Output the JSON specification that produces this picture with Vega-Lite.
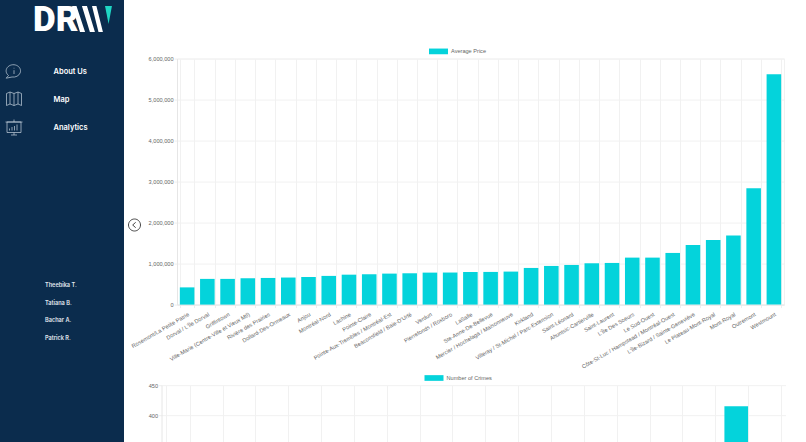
{
  "$schema": "https://vega.github.io/schema/vega-lite/v6.json",
  "padding": 0,
  "background": "#ffffff",
  "bounds": "full",
  "align": "none",
  "spacing": -13,
  "config": {
    "font": "Liberation Sans",
    "view": {"stroke": "#f1f1f1"}
  },
  "hconcat": [
    {
      "width": 124,
      "height": 442,
      "view": {"fill": "#0b2c4d", "stroke": null},
      "resolve": {"scale": {"x": "independent", "y": "independent", "shape": "independent", "color": "independent", "size": "independent"}},
      "layer": [
        {
          "data": {"values": [{"logo": "DR"}]},
          "mark": {"type": "text", "align": "left", "baseline": "middle", "font": "Roboto", "fontWeight": 900, "fontSize": 35, "color": "#ffffff"},
          "encoding": {
            "text": {"field": "logo"},
            "x": {"field": "logo", "type": "nominal", "axis": null, "scale": {"type": "point", "range": [33, 33]}},
            "y": {"field": "logo", "type": "nominal", "axis": null, "scale": {"type": "point", "range": [19.5, 19.5]}}
          }
        },
        {
          "data": {"values": [{"part": "strokes"}, {"part": "tip"}]},
          "mark": {"type": "point", "filled": true, "opacity": 1, "size": 1764, "strokeWidth": 0},
          "encoding": {
            "x": {"field": "part", "type": "nominal", "axis": null, "scale": {"type": "point", "range": [92, 92]}},
            "y": {"field": "part", "type": "nominal", "axis": null, "scale": {"type": "point", "range": [19, 19]}},
            "shape": {"field": "part", "type": "nominal", "legend": null, "scale": {"domain": ["strokes", "tip"], "range": ["M-.95,-.62L-.74,-.62L-.33,.62L-.57,.62ZM-.48,-.62L-.24,-.62L.14,.62L-.1,.62ZM0,-.62L.21,-.62L.52,.62L.31,.62Z", "M.62,-.62L.95,-.62L.79,.24Z"]}},
            "color": {"field": "part", "type": "nominal", "legend": null, "scale": {"domain": ["strokes", "tip"], "range": ["#ffffff", "#1fd6c4"]}}
          }
        },
        {
          "data": {"values": [{"icon": "info"}, {"icon": "map"}, {"icon": "board"}]},
          "mark": {"type": "point", "filled": false, "opacity": 1, "size": 400, "strokeWidth": 0.7, "color": "#c6d3de"},
          "encoding": {
            "x": {"field": "icon", "type": "nominal", "axis": null, "scale": {"type": "point", "range": [14, 14]}},
            "y": {"field": "icon", "type": "nominal", "axis": null, "scale": {"type": "point", "padding": 0, "domain": ["info", "map", "board"], "range": [71, 127]}},
            "shape": {"field": "icon", "type": "nominal", "legend": null, "scale": {"domain": ["info", "map", "board"], "range": ["M-.55,.45A.72,.62 0 1 1 -.2,.6L-.78,.72ZM0,-.08V.3M0,-.32V-.25", "M-.75,-.55L-.4,-.7L0,-.55L.4,-.7L.75,-.55V.65L.4,.5L0,.65L-.4,.5L-.75,.65ZM-.4,-.7V.5M0,-.55V.65M.4,-.7V.5", "M-.7,-.5H.7V.55H-.7ZM-.85,-.5H.85M0,-.5V-.75M0,.55V.8M-.3,.8H.3M-.45,.35V.15M-.2,.35V0M.05,.35V-.1M.3,.35V-.25"]}}
          }
        },
        {
          "data": {"values": [{"label": "About Us"}, {"label": "Map"}, {"label": "Analytics"}]},
          "mark": {"type": "text", "align": "left", "baseline": "middle", "font": "Inter", "fontWeight": 600, "fontSize": 7.5, "color": "#ffffff"},
          "encoding": {
            "text": {"field": "label"},
            "x": {"field": "label", "type": "nominal", "axis": null, "scale": {"type": "point", "range": [53.5, 53.5]}},
            "y": {"field": "label", "type": "nominal", "axis": null, "scale": {"type": "point", "padding": 0, "domain": ["About Us", "Map", "Analytics"], "range": [72, 127.5]}}
          }
        },
        {
          "data": {"values": [{"name": "Theebika T."}, {"name": "Tatiana B."}, {"name": "Bachar A."}, {"name": "Patrick R."}]},
          "mark": {"type": "text", "align": "left", "baseline": "middle", "font": "Inter", "fontWeight": 600, "fontSize": 5.6, "color": "#e4eaf0"},
          "encoding": {
            "text": {"field": "name"},
            "x": {"field": "name", "type": "nominal", "axis": null, "scale": {"type": "point", "range": [45, 45]}},
            "y": {"field": "name", "type": "nominal", "axis": null, "scale": {"type": "point", "padding": 0, "domain": ["Theebika T.", "Tatiana B.", "Bachar A.", "Patrick R."], "range": [285, 337.5]}}
          }
        },
        {
          "data": {"values": [{"button": "back"}]},
          "mark": {"type": "point", "filled": false, "opacity": 1, "size": 144, "strokeWidth": 0.9, "color": "#333333", "shape": "M-1,0A1,1 0 1 1 1,0A1,1 0 1 1 -1,0ZM.2,-.45L-.3,0L.2,.45"},
          "encoding": {
            "x": {"field": "button", "type": "nominal", "axis": null, "scale": {"type": "point", "range": [134.5, 134.5]}},
            "y": {"field": "button", "type": "nominal", "axis": null, "scale": {"type": "point", "range": [225, 225]}}
          }
        }
      ]
    },
    {
      "align": "none",
      "bounds": "full",
      "spacing": -2.4,
      "resolve": {"scale": {"color": "independent"}, "legend": {"color": "independent"}},
      "vconcat": [
        {
          "width": 10,
          "height": 42.7,
          "view": {"stroke": null},
          "data": {"values": []},
          "mark": "rule",
          "encoding": {}
        },
        {
          "width": 607,
          "height": 246,
          "data": {
            "values": [
              {"borough": "Rosemont/La Petite Patrie", "price": 420000},
              {"borough": "Dorval / L'Île Dorval", "price": 627000},
              {"borough": "Griffintown", "price": 627000},
              {"borough": "Ville-Marie (Centre-Ville et Vieux Mtl)", "price": 642000},
              {"borough": "Rivière des Prairies", "price": 650000},
              {"borough": "Dollard-Des-Ormeaux", "price": 660000},
              {"borough": "Anjou", "price": 675000},
              {"borough": "Montréal-Nord", "price": 700000},
              {"borough": "Lachine", "price": 730000},
              {"borough": "Pointe-Claire", "price": 740000},
              {"borough": "Pointe-Aux-Trembles / Montréal-Est", "price": 756000},
              {"borough": "Beaconsfield / Baie-D'Urfé", "price": 764000},
              {"borough": "Verdun", "price": 780000},
              {"borough": "Pierrefonds / Roxboro", "price": 782000},
              {"borough": "LaSalle", "price": 795000},
              {"borough": "Ste-Anne-De-Bellevue", "price": 797000},
              {"borough": "Mercier / Hochelaga / Maisonneuve", "price": 805000},
              {"borough": "Kirkland", "price": 894000},
              {"borough": "Villeray / St-Michel / Parc-Extension", "price": 943000},
              {"borough": "Saint-Léonard", "price": 967000},
              {"borough": "Ahuntsic-Cartierville", "price": 1008000},
              {"borough": "Saint-Laurent", "price": 1016000},
              {"borough": "L'Île Des Soeurs", "price": 1146000},
              {"borough": "Le Sud-Ouest", "price": 1146000},
              {"borough": "Côte-St-Luc / Hampstead / Montréal-Ouest", "price": 1260000},
              {"borough": "L'Île-Bizard / Sainte-Geneviève", "price": 1455000},
              {"borough": "Le Plateau-Mont-Royal", "price": 1577000},
              {"borough": "Mont-Royal", "price": 1683000},
              {"borough": "Outremont", "price": 2840000},
              {"borough": "Westmount", "price": 5620000}
            ]
          },
          "mark": {"type": "bar"},
          "encoding": {
            "x": {
              "field": "borough",
              "type": "nominal",
              "sort": null,
              "title": null,
              "scale": {"paddingInner": 0.28, "paddingOuter": 0.14},
              "axis": {
                "tickBand": "extent",
                "grid": true,
                "gridColor": "#f1f1f1",
                "domainColor": "#e6e6e6",
                "tickColor": "#eeeeee",
                "tickSize": 3,
                "labelAngle": -30,
                "labelAlign": "right",
                "labelBaseline": "top",
                "labelFontSize": 5.6,
                "labelColor": "#666666",
                "labelPadding": 4,
                "labelOverlap": false,
                "labelLimit": 0
              }
            },
            "y": {
              "field": "price",
              "type": "quantitative",
              "title": null,
              "scale": {"domain": [0, 6000000], "nice": false},
              "axis": {
                "values": [0, 1000000, 2000000, 3000000, 4000000, 5000000, 6000000],
                "format": ",.0f",
                "grid": true,
                "gridColor": "#f1f1f1",
                "domainColor": "#e6e6e6",
                "tickColor": "#eeeeee",
                "tickSize": 3,
                "labelFontSize": 5.6,
                "labelColor": "#666666",
                "labelPadding": 1
              }
            },
            "color": {
              "datum": "Average Price",
              "type": "nominal",
              "scale": {"range": ["#04d3db"]},
              "legend": {
                "title": null,
                "orient": "none",
                "legendX": 252,
                "legendY": -16.7,
                "padding": 0,
                "symbolType": "M-1,-.3H1V.3H-1Z",
                "symbolSize": 361,
                "symbolStrokeWidth": 0,
                "symbolOpacity": 1,
                "labelFontSize": 5.6,
                "labelColor": "#666666",
                "labelOffset": 3
              }
            }
          }
        },
        {
          "width": 609,
          "height": 58,
          "view": {"stroke": null},
          "data": {"values": [{"slot": 18, "crimes": 415}]},
          "mark": {"type": "bar", "clip": true},
          "encoding": {
            "x": {
              "field": "slot",
              "type": "ordinal",
              "title": null,
              "scale": {"domain": [1, 2, 3, 4, 5, 6, 7, 8, 9, 10, 11, 12, 13, 14, 15, 16, 17, 18, 19], "paddingInner": 0.28, "paddingOuter": 0.14, "range": [-15.5, 608.5]},
              "axis": {
                "tickBand": "extent",
                "grid": true,
                "gridColor": "#f1f1f1",
                "labels": false,
                "ticks": false,
                "domain": false
              }
            },
            "y": {
              "field": "crimes",
              "type": "quantitative",
              "title": null,
              "scale": {"domain": [353.3, 450], "nice": false},
              "axis": {
                "values": [400, 450],
                "offset": 15.5,
                "grid": true,
                "gridColor": "#f1f1f1",
                "domainColor": "#e6e6e6",
                "tickColor": "#eeeeee",
                "tickSize": 3,
                "labelFontSize": 5.6,
                "labelColor": "#666666",
                "labelPadding": 1
              }
            },
            "color": {
              "datum": "Number of Crimes",
              "type": "nominal",
              "scale": {"range": ["#04d3db"]},
              "legend": {
                "title": null,
                "orient": "none",
                "legendX": 247.5,
                "legendY": -16.7,
                "padding": 0,
                "symbolType": "M-1,-.3H1V.3H-1Z",
                "symbolSize": 361,
                "symbolStrokeWidth": 0,
                "symbolOpacity": 1,
                "labelFontSize": 5.6,
                "labelColor": "#666666",
                "labelOffset": 3
              }
            }
          }
        }
      ]
    }
  ]
}
